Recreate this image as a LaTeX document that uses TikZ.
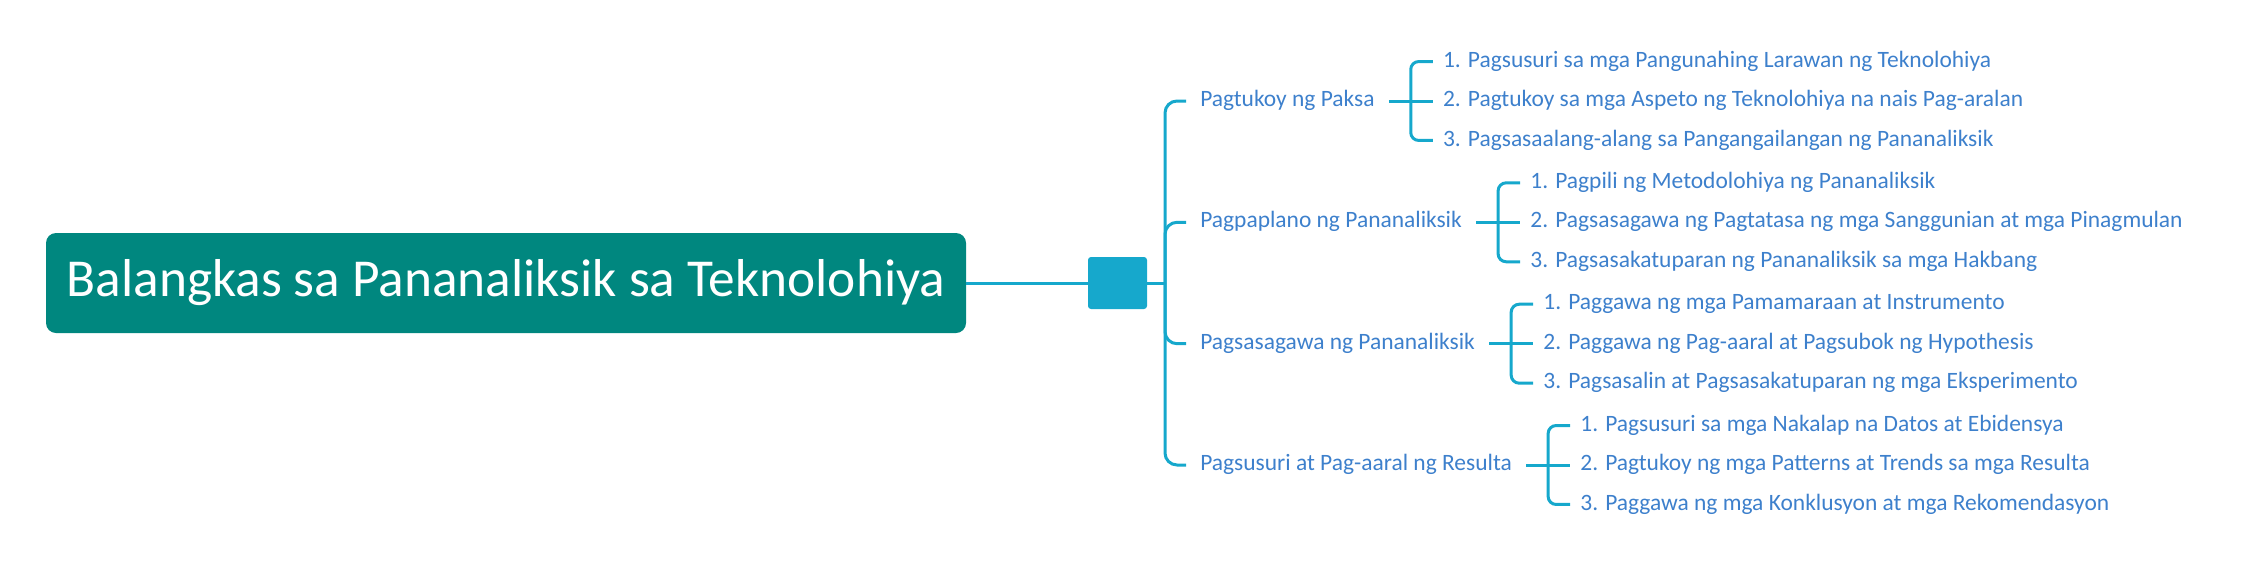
\documentclass[tikz,border=0pt]{standalone}
\usepackage{fontspec}
\setmainfont{Carlito}
\usetikzlibrary{positioning}
\definecolor{rootteal}{RGB}{0,135,127}
\definecolor{linkblue}{RGB}{22,168,204}
\definecolor{textblue}{RGB}{61,128,204}

\begin{document}
\begin{tikzpicture}[x=0.75pt,y=-0.75pt]
\tikzset{every node/.style={inner sep=0pt}}
\tikzset{link/.style={draw=linkblue,line width=2.25pt}}
\tikzset{mainbox/.style={fill=rootteal,rounded corners=7.5pt,minimum width=690pt,minimum height=75pt,text=white,font=\fontsize{40}{46}\selectfont}}
\tikzset{hubbox/.style={fill=linkblue,rounded corners=2.25pt,minimum width=44.25pt,minimum height=39pt}}
\tikzset{phase/.style={anchor=west,inner xsep=10.5pt,text=textblue,text height=.92em,text depth=.08em,font=\fontsize{17.6}{20}\selectfont}}
\tikzset{task/.style={anchor=west,inner xsep=7.5pt,text=textblue,text height=.92em,text depth=.08em,font=\fontsize{17.6}{20}\selectfont}}
\useasboundingbox (0,0) rectangle (2241,582);

\node[mainbox] (root) at (506,283) {Balangkas sa Pananaliksik sa Teknolohiya};
\node[hubbox] (hub) at (1117.5,283) {};
\coordinate (trunk) at (1165,283);

\node[phase] (p1) at (1186,101) {Pagtukoy ng Paksa};
\node[phase] (p2) at (1186,222.3) {Pagpaplano ng Pananaliksik};
\node[phase] (p3) at (1186,343.7) {Pagsasagawa ng Pananaliksik};
\node[phase] (p4) at (1186,465) {Pagsusuri at Pag-aaral ng Resulta};

\node[task,right=33pt of p1] (t12) {2. Pagtukoy sa mga Aspeto ng Teknolohiya na nais Pag-aralan};
\node[task] (t11) at ([yshift=29.6pt]t12.west) {1. Pagsusuri sa mga Pangunahing Larawan ng Teknolohiya};
\node[task] (t13) at ([yshift=-29.6pt]t12.west) {3. Pagsasaalang-alang sa Pangangailangan ng Pananaliksik};
\coordinate[right=16.5pt of p1] (k1);

\node[task,right=33pt of p2] (t22) {2. Pagsasagawa ng Pagtatasa ng mga Sanggunian at mga Pinagmulan};
\node[task] (t21) at ([yshift=29.6pt]t22.west) {1. Pagpili ng Metodolohiya ng Pananaliksik};
\node[task] (t23) at ([yshift=-29.6pt]t22.west) {3. Pagsasakatuparan ng Pananaliksik sa mga Hakbang};
\coordinate[right=16.5pt of p2] (k2);

\node[task,right=33pt of p3] (t32) {2. Paggawa ng Pag-aaral at Pagsubok ng Hypothesis};
\node[task] (t31) at ([yshift=29.6pt]t32.west) {1. Paggawa ng mga Pamamaraan at Instrumento};
\node[task] (t33) at ([yshift=-29.6pt]t32.west) {3. Pagsasalin at Pagsasakatuparan ng mga Eksperimento};
\coordinate[right=16.5pt of p3] (k3);

\node[task,right=33pt of p4] (t42) {2. Pagtukoy ng mga Patterns at Trends sa mga Resulta};
\node[task] (t41) at ([yshift=29.6pt]t42.west) {1. Pagsusuri sa mga Nakalap na Datos at Ebidensya};
\node[task] (t43) at ([yshift=-29.6pt]t42.west) {3. Paggawa ng mga Konklusyon at mga Rekomendasyon};
\coordinate[right=16.5pt of p4] (k4);

\draw[link] (root.east) -- (hub.west);
\draw[link] (hub.east) -- (trunk);
\draw[link,rounded corners=9pt] (trunk) |- (p1.west);
\draw[link,rounded corners=9pt] (trunk) |- (p2.west);
\draw[link,rounded corners=9pt] (trunk) |- (p3.west);
\draw[link,rounded corners=9pt] (trunk) |- (p4.west);

\draw[link] (p1.east) -- (t12.west);
\draw[link,rounded corners=6pt] (t11.west) -| (k1) |- (t13.west);
\draw[link] (p2.east) -- (t22.west);
\draw[link,rounded corners=6pt] (t21.west) -| (k2) |- (t23.west);
\draw[link] (p3.east) -- (t32.west);
\draw[link,rounded corners=6pt] (t31.west) -| (k3) |- (t33.west);
\draw[link] (p4.east) -- (t42.west);
\draw[link,rounded corners=6pt] (t41.west) -| (k4) |- (t43.west);
\end{tikzpicture}
\end{document}
